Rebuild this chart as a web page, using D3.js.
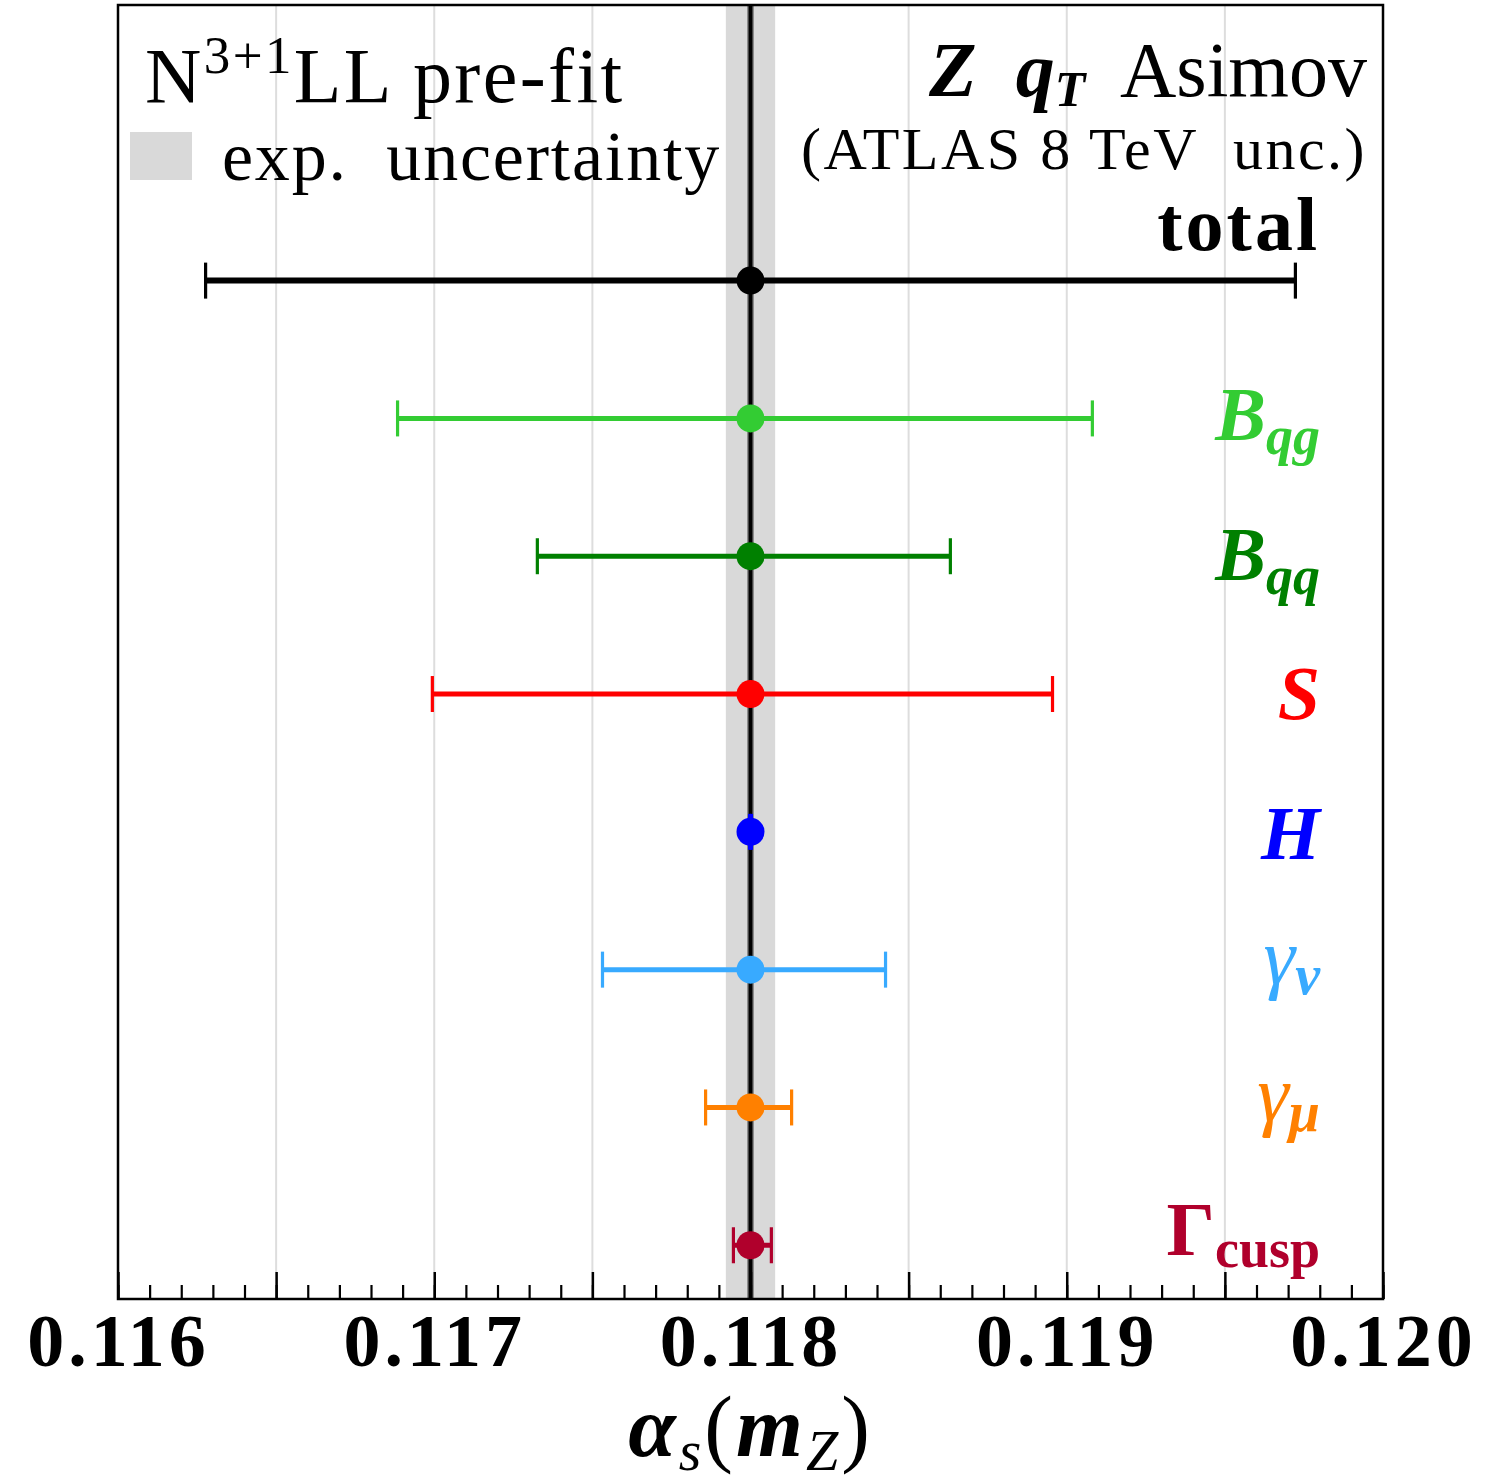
<!DOCTYPE html>
<html>
<head>
<meta charset="utf-8">
<script src="https://cdn.jsdelivr.net/npm/d3@7"></script>
<style>
  html, body { margin: 0; padding: 0; background: #fff; }
  svg { display: block; }
  text { font-family: "Liberation Serif", "DejaVu Serif", serif; }
</style>
</head>
<body>
<svg id="chart" width="1485" height="1484"></svg>
<script>
// Sources of uncertainty on alpha_s(mZ), top to bottom
const categories = ["total", "Bqg", "Bqq", "S", "H", "gnu", "gmu", "Gcusp"];
const centralValues = [0.118, 0.118, 0.118, 0.118, 0.118, 0.118, 0.118, 0.118];
const errLow  = [0.001723, 0.001116, 0.000674, 0.001006, 0.000003, 0.000468, 0.000142, 0.000054];
const errHigh = [0.001723, 0.001081, 0.000632, 0.000955, 0.000003, 0.000427, 0.000130, 0.000066];
const seriesColors = ["#000000", "#33cc33", "#008000", "#ff0000", "#0000ff", "#38aaff", "#ff8000", "#b0002c"];
const expUncertainty = 0.000078;
const xTickValues = [0.116, 0.117, 0.118, 0.119, 0.120];
const xTickLabels = ["0.116", "0.117", "0.118", "0.119", "0.120"];

const svg = d3.select("#chart");
const plotL = 118, plotR = 1383, plotT = 5, plotB = 1299;

const x = d3.scaleLinear().domain([0.116, 0.120]).range([plotL, plotR]);
const y = d3.scaleLinear().domain([-2, 7.39]).range([plotT, plotB]);

// vertical grid every 0.0005
const gridVals = d3.range(0, 9).map(i => 0.116 + i * 0.0005);
svg.append("g").selectAll("line").data(gridVals.slice(1, -1)).join("line")
  .attr("x1", d => x(d)).attr("x2", d => x(d))
  .attr("y1", plotT).attr("y2", plotB)
  .attr("stroke", "#dddddd").attr("stroke-width", 2);

// experimental uncertainty band
svg.append("rect")
  .attr("x", x(0.118 - expUncertainty)).attr("width", x(0.118 + expUncertainty) - x(0.118 - expUncertainty))
  .attr("y", plotT).attr("height", plotB - plotT)
  .attr("fill", "#d9d9d9");

// central value line
svg.append("line")
  .attr("x1", x(0.118)).attr("x2", x(0.118)).attr("y1", plotT).attr("y2", plotB)
  .attr("stroke", "#444").attr("stroke-width", 6);
svg.append("line")
  .attr("x1", x(0.118)).attr("x2", x(0.118)).attr("y1", plotT).attr("y2", plotB)
  .attr("stroke", "#000").attr("stroke-width", 3);

// error bars
const rows = categories.map((c, i) => ({
  i, c, v: centralValues[i], lo: centralValues[i] - errLow[i], hi: centralValues[i] + errHigh[i], col: seriesColors[i]
}));
const eb = svg.append("g").selectAll("g").data(rows).join("g");
eb.append("line")
  .attr("x1", d => x(d.lo)).attr("x2", d => x(d.hi))
  .attr("y1", d => y(d.i)).attr("y2", d => y(d.i))
  .attr("stroke", d => d.col).attr("stroke-width", d => d.i === 0 ? 6 : 5);
eb.selectAll("line.cap").data(d => [[d.lo, d], [d.hi, d]]).join("line").attr("class", "cap")
  .attr("x1", d => x(d[0])).attr("x2", d => x(d[0]))
  .attr("y1", d => y(d[1].i) - 18).attr("y2", d => y(d[1].i) + 18)
  .attr("stroke", d => d[1].col).attr("stroke-width", 3.2);
eb.append("circle")
  .attr("cx", d => x(d.v)).attr("cy", d => y(d.i)).attr("r", 14)
  .attr("fill", d => d.col);

// x axis: major ticks every 0.0005, minor every 0.0001, both inward
const axisG = svg.append("g").attr("transform", `translate(0,${plotB})`);
axisG.call(d3.axisBottom(x).tickValues(d3.range(0, 41).map(i => 0.116 + i * 0.0001)).tickSize(-14).tickFormat(""))
  .call(g => g.selectAll(".tick line").attr("stroke-width", 2.2))
  .call(g => g.select(".domain").remove());
const majorG = svg.append("g").attr("transform", `translate(0,${plotB})`);
majorG.call(d3.axisBottom(x).tickValues(gridVals).tickSize(-27).tickPadding(14)
    .tickFormat(d => {
      const k = xTickValues.findIndex(v => Math.abs(v - d) < 1e-9);
      return k >= 0 ? xTickLabels[k] : "";
    }))
  .call(g => g.selectAll(".tick line").attr("stroke-width", 2.5))
  .call(g => g.select(".domain").remove())
  .call(g => g.selectAll(".tick text")
    .attr("font-family", "Liberation Serif").attr("font-weight", "bold")
    .attr("font-size", 74).attr("letter-spacing", 4).attr("fill", "#000").attr("dy", "0.71em"));

// frame
svg.append("rect").attr("x", plotL).attr("y", plotT).attr("width", plotR - plotL).attr("height", plotB - plotT)
  .attr("fill", "none").attr("stroke", "#000").attr("stroke-width", 2.5);

// axis title: alpha_s(m_Z)
const xt = svg.append("text").attr("x", x(0.118)).attr("y", 1456).attr("text-anchor", "middle")
  .attr("font-size", 86).attr("letter-spacing", 3).attr("fill", "#000");
xt.append("tspan").attr("font-style", "italic").attr("font-weight", "bold").text("α");
xt.append("tspan").attr("font-style", "italic").attr("font-size", 58).attr("dy", 14).text("s");
xt.append("tspan").attr("dy", -14).text("(");
xt.append("tspan").attr("font-style", "italic").attr("font-weight", "bold").text("m");
xt.append("tspan").attr("font-style", "italic").attr("font-size", 58).attr("dy", 14).text("Z");
xt.append("tspan").attr("dy", -14).text(")");

// row labels, right-aligned near the right edge
const labelX = 1320;
function rowLabel(i, baseY) {
  return svg.append("text").attr("x", labelX).attr("y", baseY)
    .attr("text-anchor", "end").attr("fill", seriesColors[i]).attr("font-size", 76);
}
let t;
t = rowLabel(0, y(0) - 31); t.attr("font-weight", "bold").attr("letter-spacing", 3).text("total");
t = rowLabel(1, y(1) + 22);
t.append("tspan").attr("font-style", "italic").attr("font-weight", "bold").text("B");
t.append("tspan").attr("font-style", "italic").attr("font-weight", "bold").attr("font-size", 54).attr("dy", 14).text("qg");
t = rowLabel(2, y(2) + 24);
t.append("tspan").attr("font-style", "italic").attr("font-weight", "bold").text("B");
t.append("tspan").attr("font-style", "italic").attr("font-weight", "bold").attr("font-size", 54).attr("dy", 14).text("qq");
t = rowLabel(3, y(3) + 25);
t.attr("font-style", "italic").attr("font-weight", "bold").text("S");
t = rowLabel(4, y(4) + 27);
t.attr("font-style", "italic").attr("font-weight", "bold").text("H");
t = rowLabel(5, y(5) + 14);
t.append("tspan").attr("font-style", "italic").attr("font-size", 80).text("γ");
t.append("tspan").attr("font-style", "italic").attr("font-weight", "bold").attr("font-size", 56).attr("dy", 10).text("ν");
t = rowLabel(6, y(6) + 14);
t.append("tspan").attr("font-style", "italic").attr("font-size", 80).text("γ");
t.append("tspan").attr("font-style", "italic").attr("font-weight", "bold").attr("font-size", 56).attr("dy", 10).text("μ");
t = rowLabel(7, y(7) + 10);
t.attr("font-weight", "bold");
t.append("tspan").text("Γ");
t.append("tspan").attr("font-size", 54).attr("dy", 12).text("cusp");

// legend block, upper left
const h1 = svg.append("text").attr("x", 145).attr("y", 102).attr("font-size", 78)
  .attr("letter-spacing", 2.4).attr("fill", "#000");
h1.append("tspan").text("N");
h1.append("tspan").attr("font-size", 53).attr("dy", -29).text("3+1");
h1.append("tspan").attr("dy", 29).text("LL pre-fit");
svg.append("rect").attr("x", 130).attr("y", 132).attr("width", 62).attr("height", 48).attr("fill", "#d9d9d9");
svg.append("text").attr("x", 222).attr("y", 180).attr("font-size", 70).attr("fill", "#000")
  .attr("letter-spacing", 1.8).attr("xml:space", "preserve").text("exp.  uncertainty");

// dataset annotation, upper right
const h2 = svg.append("text").attr("x", 1367).attr("y", 96).attr("text-anchor", "end")
  .attr("font-size", 78).attr("fill", "#000").attr("xml:space", "preserve");
h2.append("tspan").attr("font-style", "italic").attr("font-weight", "bold").text("Z ");
h2.append("tspan").attr("font-style", "italic").attr("font-weight", "bold").text(" q");
h2.append("tspan").attr("font-style", "italic").attr("font-weight", "bold").attr("font-size", 50).attr("dy", 10).text("T");
h2.append("tspan").attr("dy", -10).text("  Asimov");
svg.append("text").attr("x", 1367).attr("y", 169).attr("text-anchor", "end")
  .attr("font-size", 60).attr("letter-spacing", 2.5).attr("fill", "#000").attr("xml:space", "preserve")
  .text("(ATLAS 8 TeV  unc.)");
</script>
</body>
</html>
